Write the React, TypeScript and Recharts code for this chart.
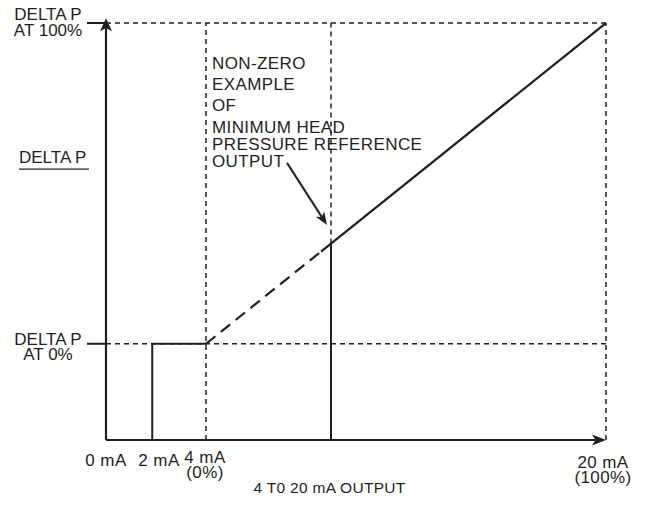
import React from 'react';
import { LineChart, Line, XAxis, YAxis, ReferenceLine, ReferenceDot, Label } from 'recharts';

// ---------- data ----------
const X_TICKS = [0, 2, 4, 20];
const X_TICK_LABELS: Record<number, string[]> = {
  0: ['0 mA'],
  2: ['2 mA'],
  4: ['4 mA', '(0%)'],
  20: ['20 mA', '(100%)'],
};
const Y_TICKS = [0, 100];
const Y_TICK_LABELS: Record<number, string[]> = {
  0: ['DELTA P', 'AT 0%'],
  100: ['DELTA P', 'AT 100%'],
};
const Y_TITLE = 'DELTA P';
const X_TITLE = '4 T0 20 mA OUTPUT';
const ANNOTATION_LINES = ['NON-ZERO', 'EXAMPLE', 'OF', 'MINIMUM HEAD', 'PRESSURE REFERENCE', 'OUTPUT'];

const X_DOMAIN = [0, 20];
const Y_DOMAIN = [-30, 100];
const Y_AXIS_TIP = 101.5;

const cutoffStep = [
  { x: 1.85, y: -30 },
  { x: 1.85, y: 0 },
  { x: 4, y: 0 },
];
const dashedRamp = [
  { x: 4, y: 0 },
  { x: 8.6, y: 28.75 },
];
const solidRamp = [
  { x: 8.6, y: 28.75 },
  { x: 20, y: 100 },
];
const minHeadBar = [
  { x: 9, y: -30 },
  { x: 9, y: 31.25 },
];
const annotationAnchor = { x: 4.24, y: 85.7 };
const pointerFrom = { x: 7.24, y: 56.4 };
const pointerTo = { x: 8.84, y: 37.0 };

// ---------- style ----------
const INK = '#231f20';
const FONT = '"Liberation Sans", Arial, Helvetica, sans-serif';
const W = 646;
const H = 508;
const X_TICK_STYLE: Record<number, { dx: number; dy: number }> = {
  0: { dx: 0, dy: 26 },
  2: { dx: 3, dy: 26 },
  4: { dx: -1, dy: 23 },
  20: { dx: -3, dy: 28 },
};
const Y_TICK_STYLE: Record<number, { dy: number }> = {
  0: { dy: 1 },
  100: { dy: -3 },
};
const ANNOT_OFFSETS = [0, 21, 42.5, 64, 81, 98.5];

function arrowPoints(x1: number, y1: number, x2: number, y2: number, head: number, half: number) {
  const dx = x2 - x1;
  const dy = y2 - y1;
  const len = Math.hypot(dx, dy) || 1;
  const ux = dx / len;
  const uy = dy / len;
  const px = -uy;
  const py = ux;
  const bx = x2 - ux * head;
  const by = y2 - uy * head;
  const nx = x2 - ux * head * 0.75;
  const ny = y2 - uy * head * 0.75;
  return {
    poly: `${x2},${y2} ${bx + px * half},${by + py * half} ${nx},${ny} ${bx - px * half},${by - py * half}`,
    nx,
    ny,
  };
}

const makeArrow = (head: number, half: number, sw: number) => (p: any) => {
  const { x1, y1, x2, y2 } = p;
  if ([x1, y1, x2, y2].some((v) => typeof v !== 'number' || isNaN(v))) return <g />;
  const a = arrowPoints(x1, y1, x2, y2, head, half);
  return (
    <g>
      <line x1={x1} y1={y1} x2={a.nx} y2={a.ny} stroke={INK} strokeWidth={sw} />
      <polygon points={a.poly} fill={INK} stroke="none" />
    </g>
  );
};

const XTick = (props: any) => {
  const { x, y, payload } = props;
  const v = payload.value as number;
  const lines = X_TICK_LABELS[v] || [];
  const st = X_TICK_STYLE[v] || { dx: 0, dy: 26 };
  return (
    <g>
      {lines.map((t, i) => (
        <text
          key={i}
          x={x + st.dx}
          y={y + st.dy + i * 15}
          textAnchor="middle"
          fontFamily={FONT}
          fontSize={17}
          letterSpacing={0.4}
          fill={INK}
        >
          {t}
        </text>
      ))}
    </g>
  );
};

const YTick = (props: any) => {
  const { x, y, payload } = props;
  const v = payload.value as number;
  const lines = Y_TICK_LABELS[v] || [];
  const st = Y_TICK_STYLE[v] || { dy: 0 };
  return (
    <g>
      <line x1={x - 19} y1={y} x2={x} y2={y} stroke={INK} strokeWidth={2} />
      {lines.map((t, i) => (
        <text
          key={i}
          x={x - 58}
          y={y + st.dy + i * 15.5}
          textAnchor="middle"
          fontFamily={FONT}
          fontSize={17}
          fill={INK}
        >
          {t}
        </text>
      ))}
    </g>
  );
};

const YTitle = (props: any) => {
  const vb = props.viewBox || { x: 0, y: 23, width: 106, height: 417 };
  const tx = vb.x + 19;
  const ty = vb.y + vb.height * 0.336;
  return (
    <g>
      <text x={tx} y={ty} fontFamily={FONT} fontSize={17} fill={INK}>
        {Y_TITLE}
      </text>
      <line x1={tx} y1={ty + 6} x2={tx + 70} y2={ty + 6} stroke={INK} strokeWidth={1.3} />
    </g>
  );
};

const XTitle = (props: any) => {
  const vb = props.viewBox || { x: 106, y: 440, width: 500, height: 60 };
  return (
    <text
      x={vb.x + vb.width * 0.447}
      y={vb.y + 53}
      textAnchor="middle"
      fontFamily={FONT}
      fontSize={15.5}
      letterSpacing={0.3}
      fill={INK}
    >
      {X_TITLE}
    </text>
  );
};

const AnnotationText = (p: any) => {
  const { cx, cy } = p;
  if (typeof cx !== 'number' || typeof cy !== 'number') return <g />;
  return (
    <g>
      {ANNOTATION_LINES.map((t, i) => (
        <text
          key={i}
          x={cx}
          y={cy + ANNOT_OFFSETS[i]}
          fontFamily={FONT}
          fontSize={17}
          letterSpacing={0.4}
          fill={INK}
        >
          {t}
        </text>
      ))}
    </g>
  );
};

const DASH = { stroke: INK, strokeWidth: 1.5, strokeDasharray: '5 4' };

export default function App() {
  return (
    <div style={{ position: 'absolute', left: 0, top: 0, width: W, height: H, background: '#fff' }}>
      <LineChart width={W} height={H} margin={{ top: 23, right: 40, bottom: 8, left: 0 }}>
        <XAxis
          type="number"
          dataKey="x"
          domain={X_DOMAIN}
          ticks={X_TICKS}
          allowDataOverflow
          axisLine={false}
          tickLine={false}
          tickSize={0}
          tickMargin={0}
          height={60}
          tick={<XTick />}
          interval={0}
        >
          <Label content={<XTitle />} />
        </XAxis>
        <YAxis
          type="number"
          dataKey="y"
          domain={Y_DOMAIN}
          ticks={Y_TICKS}
          allowDataOverflow
          axisLine={false}
          tickLine={false}
          tickSize={0}
          tickMargin={0}
          width={106}
          tick={<YTick />}
          interval={0}
        >
          <Label content={<YTitle />} />
        </YAxis>

        {/* dashed guide lines */}
        <ReferenceLine segment={[{ x: 0, y: 100 }, { x: 20, y: 100 }]} ifOverflow="visible" {...DASH} />
        <ReferenceLine segment={[{ x: 0, y: 0 }, { x: 20, y: 0 }]} ifOverflow="visible" {...DASH} />
        <ReferenceLine segment={[{ x: 4, y: -30 }, { x: 4, y: 100 }]} ifOverflow="visible" {...DASH} />
        <ReferenceLine segment={[{ x: 9, y: 31.25 }, { x: 9, y: 100 }]} ifOverflow="visible" {...DASH} />
        <ReferenceLine segment={[{ x: 20, y: -30 }, { x: 20, y: 100 }]} ifOverflow="visible" {...DASH} />

        {/* series */}
        <Line data={cutoffStep} dataKey="y" stroke={INK} strokeWidth={2} dot={false} activeDot={false} isAnimationActive={false} type="linear" />
        <Line data={dashedRamp} dataKey="y" stroke={INK} strokeWidth={2.2} strokeDasharray="12 7" dot={false} activeDot={false} isAnimationActive={false} type="linear" />
        <Line data={solidRamp} dataKey="y" stroke={INK} strokeWidth={2.2} dot={false} activeDot={false} isAnimationActive={false} type="linear" />
        <Line data={minHeadBar} dataKey="y" stroke={INK} strokeWidth={2} dot={false} activeDot={false} isAnimationActive={false} type="linear" />

        {/* axes with arrowheads */}
        <ReferenceLine segment={[{ x: 0, y: -30 }, { x: 0, y: Y_AXIS_TIP }]} ifOverflow="visible" shape={makeArrow(13, 6, 2.2)} />
        <ReferenceLine segment={[{ x: 0, y: -30 }, { x: 20, y: -30 }]} ifOverflow="visible" shape={makeArrow(14, 5.5, 2.2)} />

        {/* annotation */}
        <ReferenceLine segment={[pointerFrom, pointerTo]} ifOverflow="visible" shape={makeArrow(13, 5, 2)} />
        <ReferenceDot x={annotationAnchor.x} y={annotationAnchor.y} r={1} ifOverflow="visible" shape={<AnnotationText />} />
      </LineChart>
    </div>
  );
}
